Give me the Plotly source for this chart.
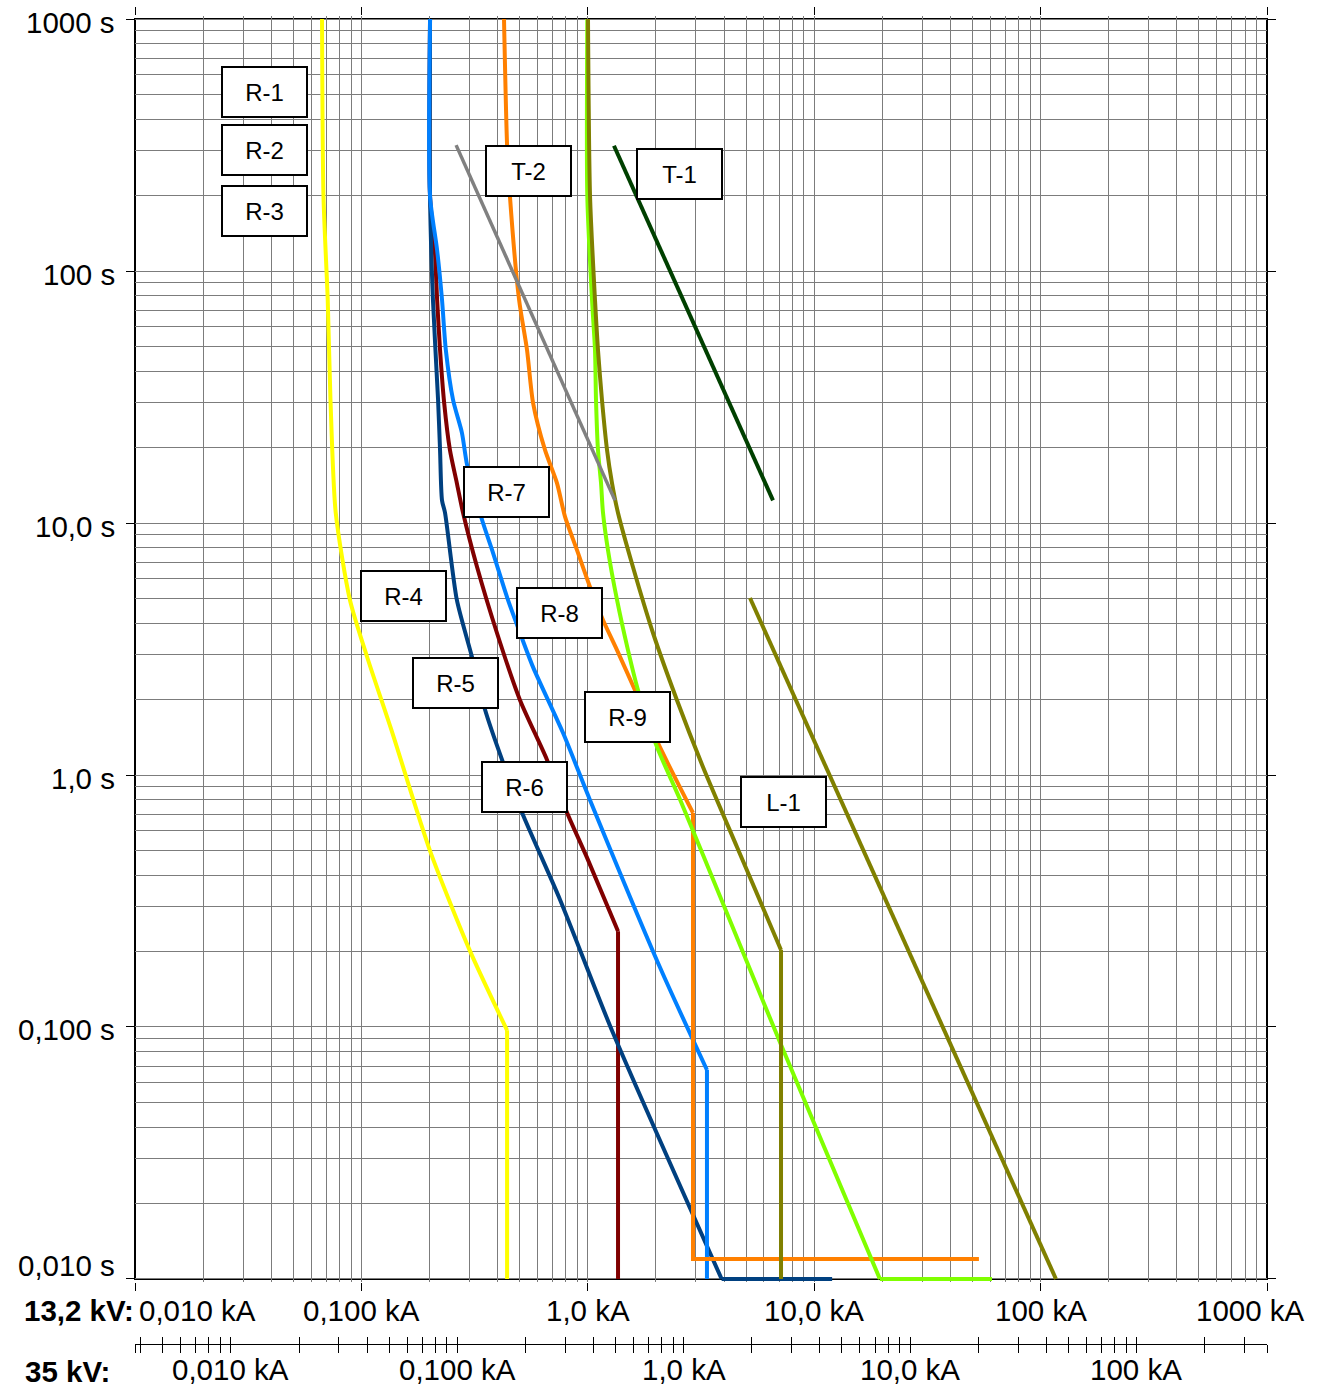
import numpy as np
import plotly.graph_objects as go

FONT = "Liberation Sans, Arial, Helvetica, sans-serif"

# ---------------- data: current (kA, referred to 13,2 kV) and time (s) ----------------
# R-1 / R-2 / R-3 (yellow)
r123_ka = [0.067, 0.068, 0.071, 0.073, 0.077, 0.089, 0.106, 0.137, 0.201, 0.302, 0.44, 0.44]
r123_s = [1000, 198, 77, 31, 11, 4.95, 2.94, 1.47, 0.50, 0.20, 0.097, 0.01]

# dark red curve
red_ka = [0.201, 0.201, 0.211, 0.216, 0.2225, 0.232, 0.246, 0.264, 0.281, 0.324, 0.397, 0.502,
          0.660, 0.809, 0.992, 1.36, 1.36]
red_s = [1000, 198, 121, 77, 48.6, 30, 19.5, 14.4, 11, 6.7, 3.66, 1.98, 1.15, 0.71, 0.47, 0.24, 0.01]

# navy curve
navy_ka = [0.201, 0.201, 0.207, 0.218, 0.2225, 0.227, 0.234, 0.264, 0.308, 0.352, 0.418, 0.512,
           0.754, 1.29, 3.9, 12.0]
navy_s = [1000, 198, 77, 31, 19.5, 12.3, 11.0, 4.95, 2.94, 1.81, 1.15, 0.71, 0.32, 0.095,
          0.01, 0.01]

# light blue curve
blue_ka = [0.201, 0.201, 0.216, 0.227, 0.236, 0.254, 0.278, 0.293, 0.341, 0.378, 0.444, 0.502,
           0.573, 0.777, 1.02, 2.08, 3.36, 3.36]
blue_s = [1000, 198, 121, 77, 48.6, 30.8, 22.8, 17, 10.3, 7.8, 4.95, 3.66, 2.68, 1.47, 0.80,
          0.173, 0.0675, 0.01]

# orange curve
orange_ka = [0.4265, 0.44, 0.453, 0.497, 0.539, 0.573, 0.647, 0.731, 0.793, 0.896, 1.023, 1.167,
             1.346, 1.616, 2.04, 2.915, 2.915, 53.4]
orange_s = [1000, 316, 198, 77, 48.6, 30, 19.5, 14.4, 10.6, 7.8, 5.57, 4.12, 3.13, 2.17, 1.34,
            0.707, 0.012, 0.012]

# lime curve
lime_ka = [0.995, 0.995, 1.044, 1.076, 1.087, 1.109, 1.144, 1.167, 1.228, 1.346, 1.505, 1.667,
           2.022, 2.555, 3.836, 7.136, 19.5, 61.0]
lime_s = [1000, 198, 77, 48.6, 30.8, 19.5, 14.4, 11, 7.8, 4.95, 3.13, 2.17, 1.29, 0.80, 0.33,
          0.085, 0.01, 0.01]

# olive curve
olive_ka = [1.002, 1.023, 1.076, 1.109, 1.155, 1.216, 1.279, 1.360, 1.583, 1.941, 2.477, 3.227,
            4.560, 7.136, 7.136]
olive_s = [1000, 198, 76.7, 48.6, 30.8, 19.5, 14.4, 10.96, 6.69, 3.66, 1.98, 1.076, 0.518,
           0.202, 0.01]

# T-2 (grey), T-1 (dark green), L-1 (olive straight line)
t2_ka = [0.262, 1.318]
t2_s = [316, 12.3]
t1_ka = [1.305, 6.577]
t1_s = [314, 12.3]
l1_ka = [5.205, 116.9]
l1_s = [5.04, 0.01]

# box labels
label_text = ["R-1", "R-2", "R-3", "T-2", "T-1", "R-7", "R-4", "R-8", "R-5", "R-9", "R-6", "L-1"]
label_ka = [0.0375, 0.0375, 0.0375, 0.5445, 2.554, 0.4396, 0.1527, 0.7463, 0.2592, 1.505, 0.5227, 7.282]
label_s = [513, 302, 173, 249, 242.6, 13.27, 5.13, 4.39, 2.32, 1.70, 0.896, 0.781]

# axis labels
x_tick_vals = [0.01, 0.1, 1, 10, 100, 1000]
x_tick_text = ["0,010 kA", "0,100 kA", "1,0 kA", "10,0 kA", "100 kA", "1000 kA"]
y_tick_vals = [1000, 100, 10, 1, 0.1, 0.01]
y_tick_text = ["1000 s", "100 s", "10,0 s", "1,0 s", "0,100 s", "0,010 s"]
kv35_tick_vals = [0.01, 0.1, 1, 10, 100]
kv35_tick_text = ["0,010 kA", "0,100 kA", "1,0 kA", "10,0 kA", "100 kA"]
V_MAIN, V_SEC = 13.2, 35.0

# ---------------- geometry ----------------
W, H = 1339, 1390
ML, MR, MT, MB = 135, 72, 16, 20
PLOT_BOTTOM_PX = 1282
PH = H - MT - MB


def paper_y(py):
    return (H - MB - py) / PH


Y_PAD = 0.012
y_range = [np.log10(0.01) - Y_PAD, np.log10(1000) + Y_PAD]
x_range = [np.log10(0.01), np.log10(1000)]
d0 = paper_y(PLOT_BOTTOM_PX)


def val_to_paper_y(v):
    return d0 + (np.log10(v) - y_range[0]) / (y_range[1] - y_range[0]) * (1 - d0)


ratio = V_MAIN / V_SEC
x2_range = [np.log10(0.01 * ratio), np.log10(1000 * ratio)]
x2_ticks = [0.01 * ratio] + [m * 10.0 ** e for e in range(-3, 3) for m in range(1, 10)
                              if 0.01 * ratio < m * 10.0 ** e < 1000 * ratio] + [1000 * ratio]

GRID = "#7c7c7c"

fig = go.Figure()

# (x, y, colour, width, index where the smooth part ends)
curves = [
    (r123_ka, r123_s, "#FFFF00", 4, 10),
    (red_ka, red_s, "#800000", 4, 15),
    (navy_ka, navy_s, "#004080", 4, 14),
    (blue_ka, blue_s, "#0080FF", 4, 16),
    (orange_ka, orange_s, "#FF8000", 4, 15),
    (lime_ka, lime_s, "#80FF00", 4, 16),
    (olive_ka, olive_s, "#808000", 4, 13),
    (l1_ka, l1_s, "#808000", 4, 1),
    (t2_ka, t2_s, "#808080", 3.5, 1),
    (t1_ka, t1_s, "#004000", 4, 1),
]
for xs, ys, col, w, k in curves:
    if k > 1:
        fig.add_trace(go.Scatter(x=xs[:k + 1], y=ys[:k + 1], mode="lines",
                                 line=dict(color=col, width=w, shape="spline", smoothing=0.7),
                                 showlegend=False, hoverinfo="skip"))
        if k < len(xs) - 1:
            fig.add_trace(go.Scatter(x=xs[k:], y=ys[k:], mode="lines",
                                     line=dict(color=col, width=w),
                                     showlegend=False, hoverinfo="skip"))
    else:
        fig.add_trace(go.Scatter(x=xs, y=ys, mode="lines", line=dict(color=col, width=w),
                                 showlegend=False, hoverinfo="skip"))

# invisible anchors for the 35 kV scale axes
for xa in ("x2", "x3"):
    fig.add_trace(go.Scatter(x=kv35_tick_vals, y=[1] * len(kv35_tick_vals), xaxis=xa, yaxis="y",
                             mode="markers", marker=dict(opacity=0, size=1),
                             showlegend=False, hoverinfo="skip"))

annotations = []
lab_font = dict(family=FONT, size=29.5, color="black")
# y labels
y_shifts = [-3, -3, -3, -3, -3, 13]
for v, t, ys in zip(y_tick_vals, y_tick_text, y_shifts):
    annotations.append(dict(x=0, xref="paper", y=np.log10(v), yref="y", text=t, showarrow=False,
                            xanchor="right", yanchor="middle", xshift=-18, yshift=ys, font=lab_font))
# 13,2 kV x labels
for i, (v, t) in enumerate(zip(x_tick_vals, x_tick_text)):
    xanchor, xshift = "center", 0
    if i == 0:
        xanchor, xshift = "left", 2
    if i == len(x_tick_vals) - 1:
        xshift = -17
    annotations.append(dict(x=np.log10(v), xref="x", y=paper_y(1310), yref="paper", text=t,
                            showarrow=False, xanchor=xanchor, yanchor="middle", xshift=xshift,
                            font=lab_font))
# 35 kV x labels
for v, t in zip(kv35_tick_vals, kv35_tick_text):
    annotations.append(dict(x=np.log10(v), xref="x2", y=paper_y(1369), yref="paper", text=t,
                            showarrow=False, xanchor="center", yanchor="middle", font=lab_font))
bold_font = dict(family=FONT, size=29.5, color="black")
annotations.append(dict(x=0, xref="paper", y=paper_y(1310), yref="paper", text="<b>13,2 kV:</b>",
                        showarrow=False, xanchor="right", yanchor="middle", xshift=1, font=bold_font))
annotations.append(dict(x=0, xref="paper", y=paper_y(1371), yref="paper", text="<b>35 kV:</b>",
                        showarrow=False, xanchor="right", yanchor="middle", xshift=-23, font=bold_font))
# boxed curve labels
for t, xv, yv in zip(label_text, label_ka, label_s):
    annotations.append(dict(x=np.log10(xv), xref="x", y=np.log10(yv), yref="y", text=t,
                            showarrow=False, xanchor="center", yanchor="middle",
                            width=83, height=48, borderpad=0, borderwidth=2, bordercolor="black",
                            bgcolor="white", font=dict(family=FONT, size=24, color="black")))

shapes = [dict(type="rect", xref="paper", yref="paper", x0=0, x1=1,
               y0=val_to_paper_y(0.01), y1=val_to_paper_y(1000),
               line=dict(color="black", width=2), layer="below")]

axis_common = dict(type="log", showticklabels=False, zeroline=False, showline=False,
                   ticks="outside", tickcolor="black", tickwidth=1.3, ticklen=8,
                   mirror="ticks", showgrid=True, gridcolor=GRID, gridwidth=1.2,
                   minor=dict(dtick="D1", showgrid=True, gridcolor=GRID, gridwidth=1.2, ticks=""))

fig.update_layout(
    width=W, height=H,
    margin=dict(l=ML, r=MR, t=MT, b=MB, pad=0),
    paper_bgcolor="white", plot_bgcolor="rgba(0,0,0,0)",
    font=dict(family=FONT, size=20, color="black"),
    showlegend=False,
    xaxis=dict(range=x_range, tickmode="array", tickvals=x_tick_vals, anchor="y", **axis_common),
    yaxis=dict(range=y_range, tickmode="array", tickvals=y_tick_vals, domain=[d0, 1], anchor="x",
               **axis_common),
    xaxis2=dict(type="log", range=x2_range, overlaying="x", anchor="free", position=paper_y(1344),
                side="bottom", showline=True, linecolor="black", linewidth=1.3, showgrid=False,
                zeroline=False, showticklabels=False, tickmode="array", tickvals=x2_ticks,
                ticks="outside", ticklen=8, tickcolor="black", tickwidth=1.3),
    xaxis3=dict(type="log", range=x2_range, overlaying="x", anchor="free", position=paper_y(1344),
                side="bottom", showline=False, showgrid=False, zeroline=False,
                showticklabels=False, tickmode="array", tickvals=x2_ticks,
                ticks="inside", ticklen=7, tickcolor="black", tickwidth=1.3),
    annotations=annotations,
    shapes=shapes,
)

fig.write_html("out.html")
